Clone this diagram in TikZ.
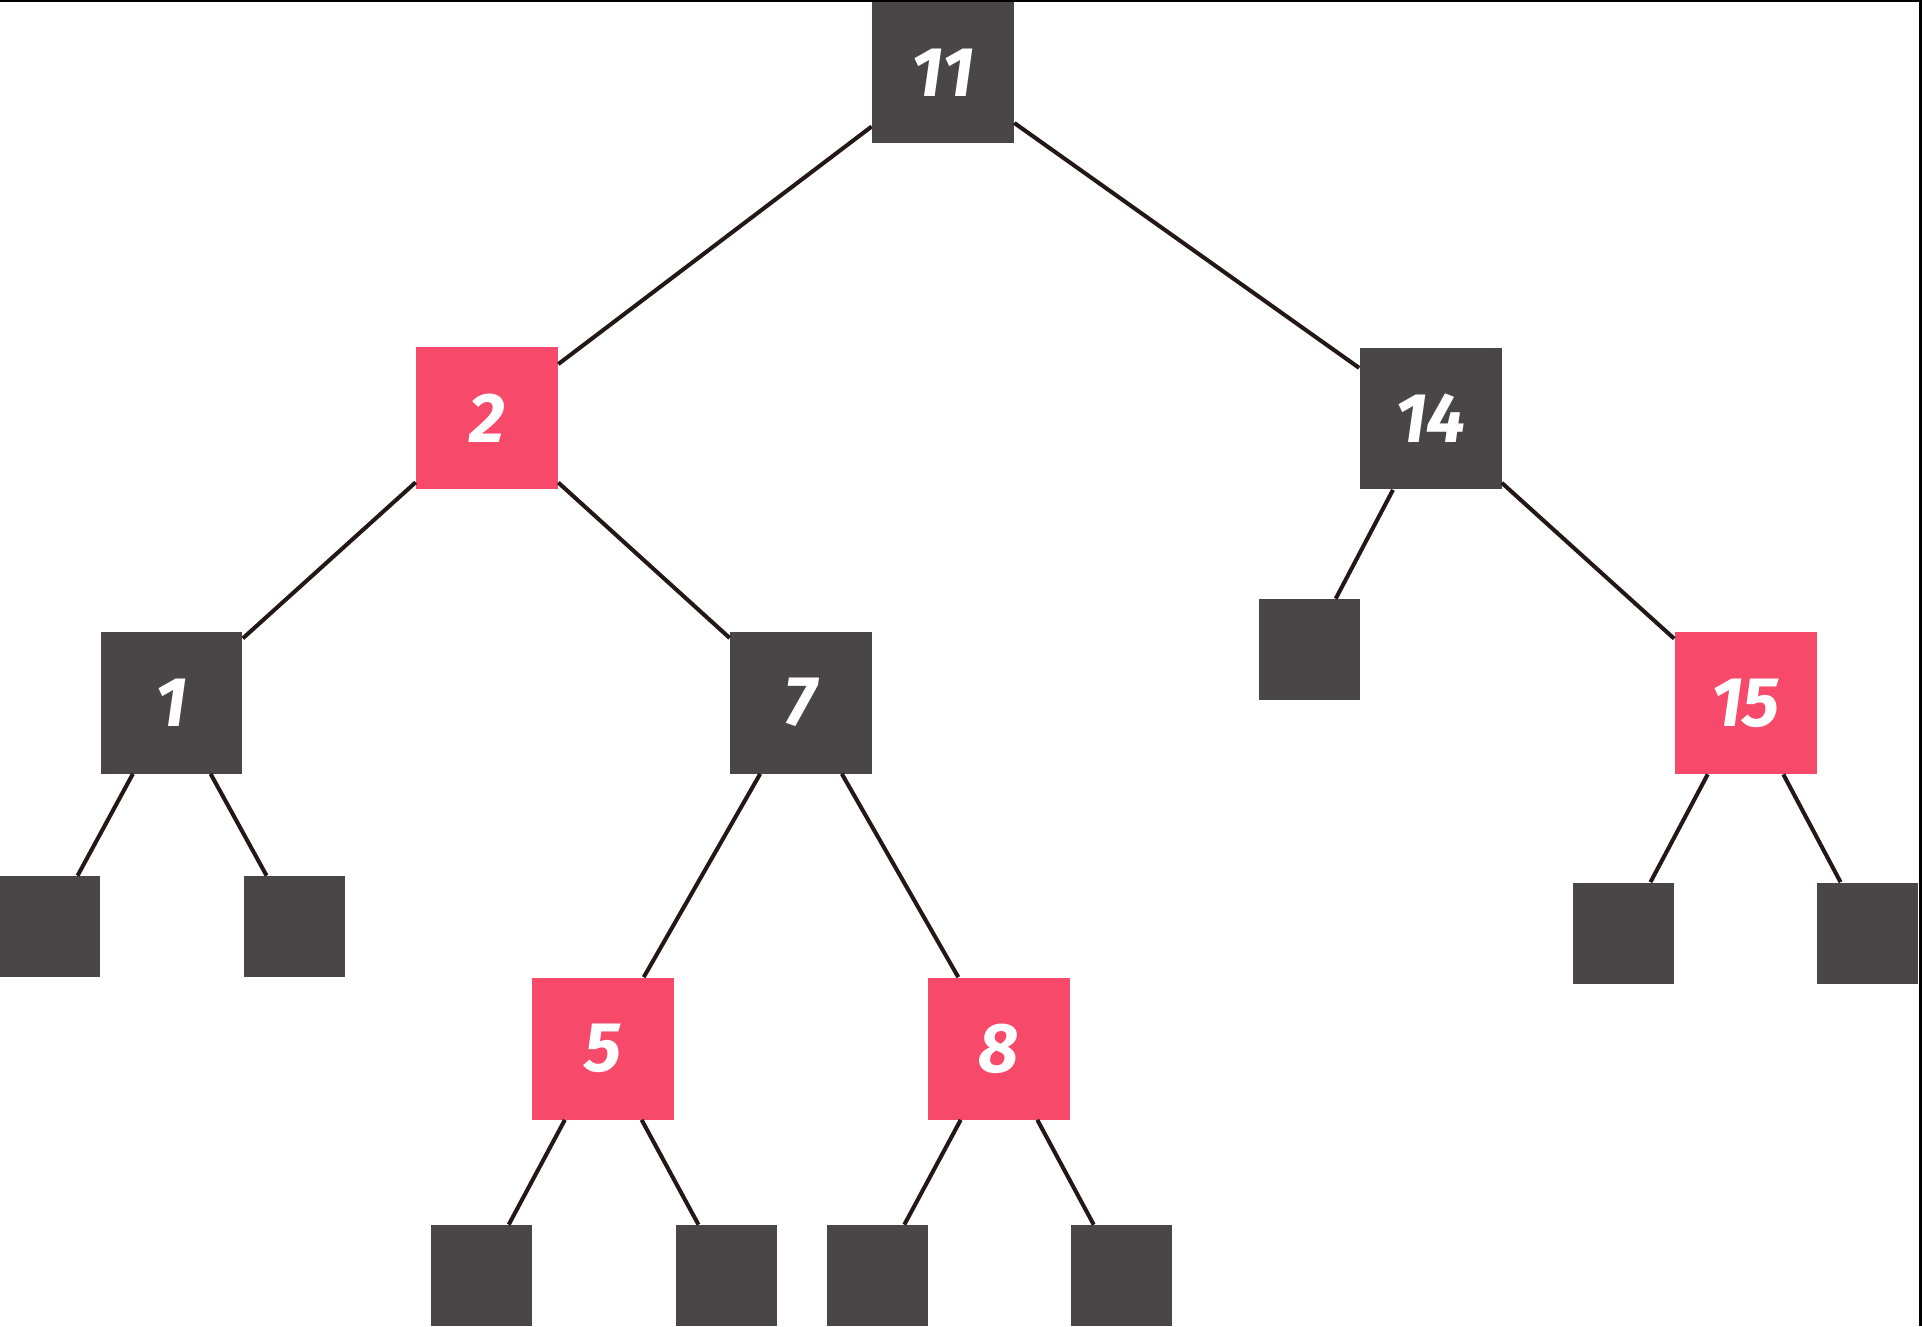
\documentclass[tikz,border=0pt]{standalone}
\usepackage{fontspec}
\setmainfont{Fira Sans}
\definecolor{nodegray}{HTML}{4A4647}
\definecolor{nodepink}{HTML}{F74A6B}
\definecolor{edgecol}{HTML}{231815}
\begin{document}
\begin{tikzpicture}[x=0.02cm,y=-0.02cm,
  inner/.style={rectangle,draw=none,minimum width=2.84cm,minimum height=2.84cm,inner sep=0pt,
    text=white,font=\fontsize{40}{42}\selectfont\itshape\bfseries},
  blk/.style={inner,fill=nodegray},
  red/.style={inner,fill=nodepink},
  leaf/.style={rectangle,draw=none,fill=nodegray,minimum width=2.02cm,minimum height=2.02cm,inner sep=0pt},
  edge/.style={draw=edgecol,line width=2.3pt}]
\useasboundingbox (0,0) rectangle (1922,1326);
\fill[white] (0,0) rectangle (1922,1326);
\fill[black] (0,0) rectangle (1922,2);
\fill[black] (1919,0) rectangle (1922,1326);
% nodes
\node[blk] (n11) at (943,72.5) {11};
\node[red] (n2) at (487,418) {2};
\node[blk] (n14) at (1430.5,418.5) {14};
\node[blk] (n1) at (171.5,702.5) {1};
\node[blk] (n7) at (801,702.5) {7};
\node[red] (n15) at (1745.5,703) {15};
\node[red] (n5) at (603,1048.5) {5};
\node[red] (n8) at (999,1048.5) {8};
\node[leaf] (l14) at (1309,649.5) {};
\node[leaf] (l1a) at (50,926.5) {};
\node[leaf] (l1b) at (294.5,926.5) {};
\node[leaf] (l15a) at (1623.5,933) {};
\node[leaf] (l15b) at (1867.5,933) {};
\node[leaf] (l5a) at (481.5,1275.5) {};
\node[leaf] (l5b) at (726,1275.5) {};
\node[leaf] (l8a) at (877,1275.5) {};
\node[leaf] (l8b) at (1121,1275.5) {};
% edges
\draw[edge] (n11) -- (n2);
\draw[edge] (n11) -- (n14);
\draw[edge] (n2) -- (n1);
\draw[edge] (n2) -- (n7);
\draw[edge] (n14) -- (l14);
\draw[edge] (n14) -- (n15);
\draw[edge] (n1) -- (l1a);
\draw[edge] (n1) -- (l1b);
\draw[edge] (n7) -- (n5);
\draw[edge] (n7) -- (n8);
\draw[edge] (n15) -- (l15a);
\draw[edge] (n15) -- (l15b);
\draw[edge] (n5) -- (l5a);
\draw[edge] (n5) -- (l5b);
\draw[edge] (n8) -- (l8a);
\draw[edge] (n8) -- (l8b);
\end{tikzpicture}
\end{document}
